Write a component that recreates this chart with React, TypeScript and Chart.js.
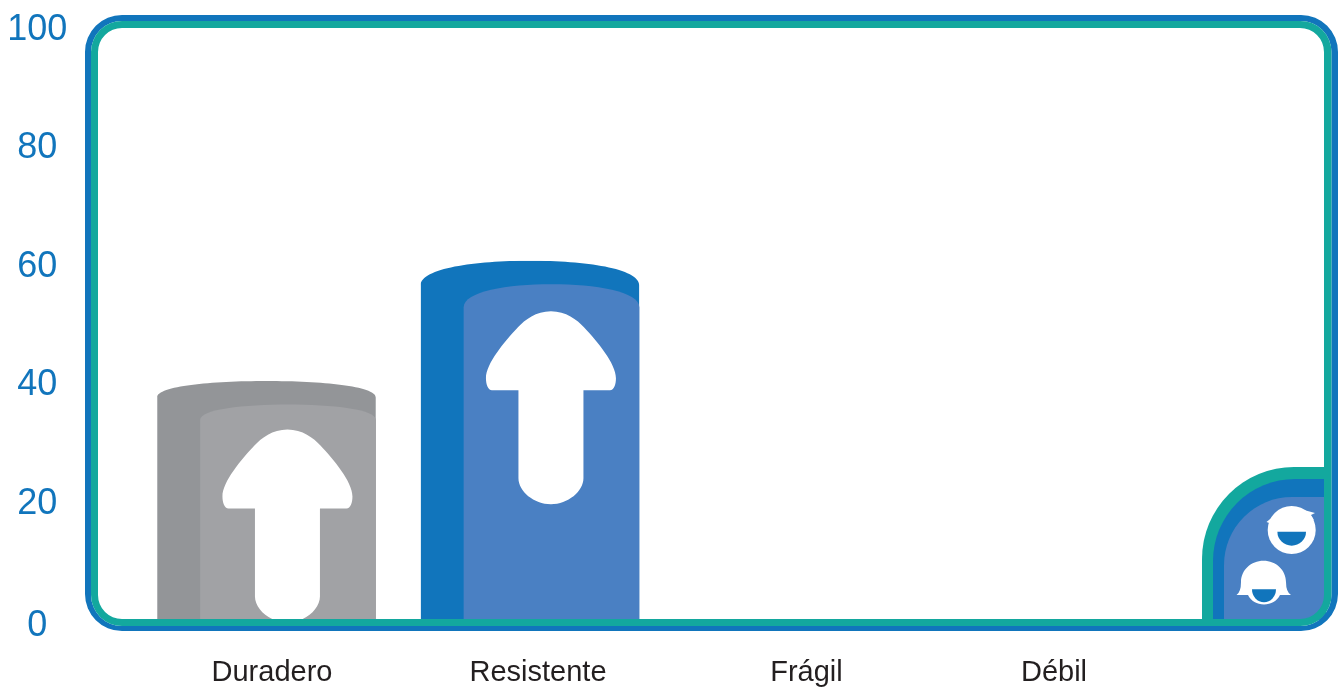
import React, { useEffect, useRef } from "react";
import { Chart, registerables } from "chart.js";

Chart.register(...registerables);

const categories = ["Duradero", "Resistente", "Frágil", "Débil"];
const barValues = [40.2, 60.5, 0, 0];
const yTicks = [0, 20, 40, 60, 80, 100];

const BLUE = "#1175bc";
const TEAL = "#13a89e";
const LIGHT_BLUE = "#4a80c3";
const GREY = "#939598";
const LIGHT_GREY = "#a1a2a5";
const barColors = [GREY, BLUE, GREY, BLUE];
const innerColors = [LIGHT_GREY, LIGHT_BLUE, LIGHT_GREY, LIGHT_BLUE];
const xLabelNudge = [5.5, 8, 13, -3];

function capPath(ctx: CanvasRenderingContext2D, left: number, right: number, top: number, capH: number, base: number) {
  const cx = (left + right) / 2;
  ctx.beginPath();
  ctx.moveTo(left, base);
  ctx.lineTo(left, top + capH);
  ctx.bezierCurveTo(left, top + capH * 0.3, cx - (right - left) * 0.25, top, cx, top);
  ctx.bezierCurveTo(cx + (right - left) * 0.25, top, right, top + capH * 0.3, right, top + capH);
  ctx.lineTo(right, base);
  ctx.closePath();
}

function arrowPath(ctx: CanvasRenderingContext2D, cx: number, ty: number) {
  const side = (s: number, first: boolean) => {
    if (first) {
      ctx.moveTo(cx, ty);
      ctx.bezierCurveTo(cx + s * 15, ty, cx + s * 26, ty + 8.5, cx + s * 33, ty + 16);
      ctx.bezierCurveTo(cx + s * 46, ty + 30, cx + s * 65, ty + 52, cx + s * 65, ty + 67);
      ctx.bezierCurveTo(cx + s * 65, ty + 73, cx + s * 63, ty + 79, cx + s * 59, ty + 79);
      ctx.lineTo(cx + s * 32.5, ty + 79);
      ctx.lineTo(cx + s * 32.5, ty + 167);
      ctx.bezierCurveTo(cx + s * 32.5, ty + 180, cx + s * 17, ty + 193, cx, ty + 193);
    } else {
      ctx.bezierCurveTo(cx + s * 17, ty + 193, cx + s * 32.5, ty + 180, cx + s * 32.5, ty + 167);
      ctx.lineTo(cx + s * 32.5, ty + 79);
      ctx.lineTo(cx + s * 59, ty + 79);
      ctx.bezierCurveTo(cx + s * 63, ty + 79, cx + s * 65, ty + 73, cx + s * 65, ty + 67);
      ctx.bezierCurveTo(cx + s * 65, ty + 52, cx + s * 46, ty + 30, cx + s * 33, ty + 16);
      ctx.bezierCurveTo(cx + s * 26, ty + 8.5, cx + s * 15, ty, cx, ty);
    }
  };
  ctx.beginPath();
  side(1, true);
  side(-1, false);
  ctx.closePath();
}

function halfDisc(ctx: CanvasRenderingContext2D, cx: number, y: number, rx: number, ry: number) {
  ctx.beginPath();
  ctx.ellipse(cx, y, rx, ry, 0, 0, Math.PI);
  ctx.closePath();
  ctx.fillStyle = BLUE;
  ctx.fill();
}

function cornerBlock(ctx: CanvasRenderingContext2D, left: number, top: number, r: number, right: number, base: number, color: string) {
  ctx.beginPath();
  ctx.moveTo(left, base);
  ctx.lineTo(left, top + r);
  ctx.arcTo(left, top, left + r, top, r);
  ctx.lineTo(right, top);
  ctx.lineTo(right, base);
  ctx.closePath();
  ctx.fillStyle = color;
  ctx.fill();
}

function drawFaces(ctx: CanvasRenderingContext2D) {
  ctx.fillStyle = "#ffffff";
  // upper face
  ctx.beginPath();
  ctx.arc(1291.7, 530, 24, 0, Math.PI * 2);
  ctx.fill();
  ctx.beginPath();
  ctx.moveTo(1275, 515);
  ctx.lineTo(1266.5, 522);
  ctx.lineTo(1272, 524);
  ctx.closePath();
  ctx.fill();
  ctx.beginPath();
  ctx.moveTo(1304, 510);
  ctx.lineTo(1315, 513);
  ctx.lineTo(1311, 515);
  ctx.lineTo(1314, 520);
  ctx.lineTo(1308, 518);
  ctx.closePath();
  ctx.fill();
  halfDisc(ctx, 1291.7, 531.7, 14.3, 14);
  // lower face
  ctx.fillStyle = "#ffffff";
  ctx.beginPath();
  ctx.moveTo(1236.5, 595);
  ctx.quadraticCurveTo(1241, 592, 1241, 582);
  ctx.bezierCurveTo(1241, 570, 1251, 560.7, 1263.5, 560.7);
  ctx.bezierCurveTo(1276, 560.7, 1286, 570, 1286, 582);
  ctx.quadraticCurveTo(1286, 592, 1291, 595);
  ctx.lineTo(1280, 595);
  ctx.bezierCurveTo(1277, 601, 1271, 604.5, 1264, 604.5);
  ctx.bezierCurveTo(1257, 604.5, 1251, 601, 1248, 595);
  ctx.closePath();
  ctx.fill();
  halfDisc(ctx, 1264, 589.3, 12, 13);
}

function drawFrame(ctx: CanvasRenderingContext2D) {
  const ring = (ox: number, oy: number, ow: number, oh: number, or: number, ix: number, iy: number, iw: number, ih: number, ir: number, color: string) => {
    ctx.beginPath();
    ctx.roundRect(ox, oy, ow, oh, or);
    ctx.roundRect(ix, iy, iw, ih, ir);
    ctx.fillStyle = color;
    ctx.fill("evenodd");
  };
  ring(85, 15, 1253, 616, 37, 91, 21, 1240.5, 605, 31, BLUE);
  ring(91, 21, 1240.5, 605, 31, 98, 28, 1226, 591, 24, TEAL);
}

const decorPlugin = {
  id: "decor",
  beforeDraw(chart: any) {
    const y = chart.scales.y;
    y.getLabelItems(chart.chartArea).forEach((item: any, i: number) => {
      item.options.translation[1] = y.getPixelForTick(i) + (i === 0 ? 7 : 3);
    });
    const x = chart.scales.x;
    x.getLabelItems(chart.chartArea).forEach((item: any, i: number) => {
      item.options.translation[0] = x.getPixelForTick(i) + xLabelNudge[i];
    });
  },
  beforeDatasetDraw(chart: any, args: any) {
    const ctx = chart.ctx;
    const els = args.meta.data;
    ctx.save();
    ctx.beginPath();
    els.forEach((el: any) => {
      const h = el.base - el.y;
      const left = el.x - el.width / 2;
      const right = el.x + el.width / 2;
      const capH = h * 0.069;
      ctx.moveTo(left, el.base);
      ctx.lineTo(left, el.y + capH);
      ctx.bezierCurveTo(left, el.y + capH * 0.3, el.x - el.width * 0.25, el.y, el.x, el.y);
      ctx.bezierCurveTo(el.x + el.width * 0.25, el.y, right, el.y + capH * 0.3, right, el.y + capH);
      ctx.lineTo(right, el.base);
      ctx.closePath();
    });
    ctx.clip();
  },
  afterDatasetDraw(chart: any, args: any) {
    const ctx = chart.ctx;
    ctx.restore();
    args.meta.data.forEach((el: any, i: number) => {
      const h = el.base - el.y;
      if (h <= 0) return;
      const left = el.x - el.width / 2;
      const right = el.x + el.width / 2;
      capPath(ctx, left + 43, right, el.y + 23.5, h * 0.065, el.base);
      ctx.fillStyle = innerColors[i];
      ctx.fill();
      ctx.save();
      ctx.beginPath();
      ctx.rect(left, el.y, el.width, h);
      ctx.clip();
      arrowPath(ctx, left + 130.3, el.y + 44.5 + h * 0.0167);
      ctx.fillStyle = "#ffffff";
      ctx.fill();
      ctx.restore();
    });
  },
  afterDatasetsDraw(chart: any) {
    const ctx = chart.ctx;
    ctx.save();
    cornerBlock(ctx, 1202, 467, 92, 1326, 620, TEAL);
    cornerBlock(ctx, 1213, 479, 82, 1325, 620, BLUE);
    cornerBlock(ctx, 1224, 497, 68, 1325, 620, LIGHT_BLUE);
    drawFaces(ctx);
    drawFrame(ctx);
    ctx.restore();
  },
};

export default function App() {
  const ref = useRef<HTMLCanvasElement>(null);
  useEffect(() => {
    const chart = new Chart(ref.current as HTMLCanvasElement, {
      type: "bar",
      data: {
        labels: categories,
        datasets: [
          {
            data: barValues,
            backgroundColor: barColors,
            borderWidth: 0,
            barPercentage: 0.83,
            categoryPercentage: 1,
          },
        ],
      },
      options: {
        animation: false,
        responsive: false,
        devicePixelRatio: 1,
        layout: { padding: { top: 27, right: 149.25, left: 0, bottom: 0 } },
        plugins: { legend: { display: false }, tooltip: { enabled: false } },
        scales: {
          x: {
            grid: { display: false },
            border: { display: false },
            afterFit: (s: any) => {
              s.height = 68;
              s.paddingLeft = 0;
              s.paddingRight = 0;
            },
            ticks: {
              color: "#231f20",
              font: { family: "'Liberation Sans'", size: 29 },
              padding: 29,
              maxRotation: 0,
              autoSkip: false,
            },
          },
          y: {
            min: 0,
            max: 100,
            afterBuildTicks: (s: any) => {
              s.ticks = yTicks.map((value) => ({ value }));
            },
            afterFit: (s: any) => {
              s.width = 134.75;
              s.paddingTop = 0;
              s.paddingBottom = 0;
            },
            grid: { display: false },
            border: { display: false },
            ticks: {
              color: BLUE,
              font: { family: "'Liberation Sans'", size: 36 },
              crossAlign: "center",
              padding: 59.5,
            },
          },
        },
      },
      plugins: [decorPlugin],
    } as any);
    return () => chart.destroy();
  }, []);
  return (
    <canvas
      ref={ref}
      width={1338}
      height={687}
      style={{ position: "fixed", left: 0, top: 0, display: "block", width: 1338, height: 687 }}
    />
  );
}
